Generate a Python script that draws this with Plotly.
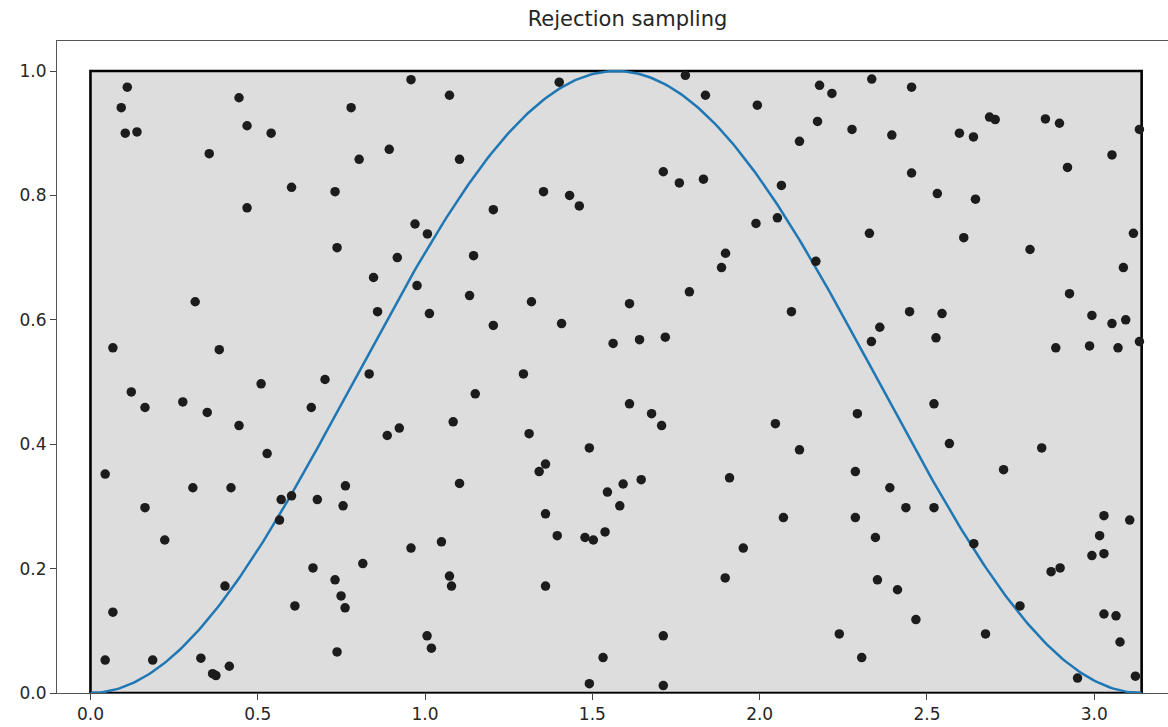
import numpy as np
import plotly.graph_objects as go

# Proposal samples (uniform over the box [0, pi] x [0, 1])
sample_x = [
    0.110, 0.092, 0.444, 0.468, 0.104, 0.139, 0.540, 0.355, 0.601, 0.468,
    0.958, 1.073, 1.401, 0.779, 0.893, 0.803, 1.103, 0.731, 1.354, 1.432,
    1.461, 1.204, 0.970, 1.007, 0.737, 0.917, 1.145,
    1.778, 1.838, 1.993, 2.179, 2.216, 2.173, 2.276, 2.119, 1.712, 1.760,
    1.832, 2.065, 2.053, 1.989, 1.898, 2.168,
    2.335, 2.454, 2.395, 2.687, 2.704, 2.597, 2.639, 2.854, 2.896, 3.135,
    3.053, 2.920, 2.454, 2.531, 2.645, 2.328, 2.610, 2.808, 3.117,
    0.313, 0.067, 0.385, 0.510, 0.122, 0.163, 0.276, 0.349, 0.660, 0.444,
    0.528, 0.044,
    0.846, 0.976, 1.133, 1.318, 0.858, 1.013, 1.204, 1.408, 0.701, 0.833,
    1.294, 1.150, 1.084, 0.923, 0.887, 1.311, 1.491, 1.360, 1.341, 1.103,
    1.886, 1.790, 1.611, 2.095, 1.562, 1.641, 1.718, 1.611, 1.677, 1.707,
    2.047, 2.292, 2.119, 2.286, 1.910, 1.646, 1.592,
    3.087, 2.926, 2.448, 2.545, 2.359, 2.334, 2.527, 2.993, 3.053, 3.094,
    3.135, 2.885, 2.986, 3.071, 2.521, 2.567, 2.843, 2.729,
    0.306, 0.420, 0.163, 0.222, 0.570, 0.601, 0.678, 0.565, 0.665, 0.402,
    0.611, 0.067, 0.044, 0.186, 0.330, 0.415, 0.365, 0.375,
    0.762, 0.755, 1.360, 1.395, 1.478, 1.503, 0.958, 1.049, 0.814, 0.731,
    0.749, 0.761, 1.073, 1.079, 1.360, 1.006, 1.019, 0.737, 1.491,
    1.545, 1.582, 1.538, 2.071, 2.286, 1.951, 1.897, 1.712, 2.238, 2.305,
    1.532, 1.712,
    2.389, 2.437, 2.521, 2.346, 2.640, 2.352, 2.412, 2.467, 2.675, 2.778,
    2.871, 2.898, 3.029, 3.106, 3.016, 2.993, 3.029, 3.029, 3.065, 3.077,
    2.950, 3.123,
]
sample_y = [
    0.974, 0.941, 0.957, 0.912, 0.900, 0.902, 0.900, 0.867, 0.813, 0.780,
    0.986, 0.961, 0.982, 0.941, 0.874, 0.858, 0.858, 0.806, 0.806, 0.800,
    0.783, 0.777, 0.754, 0.738, 0.716, 0.700, 0.703,
    0.993, 0.961, 0.945, 0.977, 0.964, 0.919, 0.906, 0.887, 0.838, 0.820,
    0.826, 0.816, 0.764, 0.755, 0.707, 0.694,
    0.987, 0.974, 0.897, 0.926, 0.922, 0.900, 0.894, 0.923, 0.916, 0.906,
    0.865, 0.845, 0.836, 0.803, 0.794, 0.739, 0.732, 0.713, 0.739,
    0.629, 0.555, 0.552, 0.497, 0.484, 0.459, 0.468, 0.451, 0.459, 0.430,
    0.385, 0.352,
    0.668, 0.655, 0.639, 0.629, 0.613, 0.610, 0.591, 0.594, 0.504, 0.513,
    0.513, 0.481, 0.436, 0.426, 0.414, 0.417, 0.394, 0.368, 0.356, 0.337,
    0.684, 0.645, 0.626, 0.613, 0.562, 0.568, 0.572, 0.465, 0.449, 0.430,
    0.433, 0.449, 0.391, 0.356, 0.346, 0.343, 0.336,
    0.684, 0.642, 0.613, 0.610, 0.588, 0.565, 0.571, 0.607, 0.594, 0.600,
    0.565, 0.555, 0.558, 0.555, 0.465, 0.401, 0.394, 0.359,
    0.330, 0.330, 0.298, 0.246, 0.311, 0.317, 0.311, 0.278, 0.201, 0.172,
    0.140, 0.130, 0.053, 0.053, 0.056, 0.043, 0.031, 0.028,
    0.333, 0.301, 0.288, 0.253, 0.250, 0.246, 0.233, 0.243, 0.208, 0.182,
    0.156, 0.137, 0.188, 0.172, 0.172, 0.092, 0.072, 0.066, 0.015,
    0.323, 0.301, 0.259, 0.282, 0.282, 0.233, 0.185, 0.092, 0.095, 0.057,
    0.057, 0.012,
    0.330, 0.298, 0.298, 0.250, 0.240, 0.182, 0.166, 0.118, 0.095, 0.140,
    0.195, 0.201, 0.285, 0.278, 0.253, 0.221, 0.224, 0.127, 0.124, 0.082,
    0.024, 0.027,
]

x_ticks = [0.0, 0.5, 1.0, 1.5, 2.0, 2.5, 3.0]
y_ticks = [0.0, 0.2, 0.4, 0.6, 0.8, 1.0]

# Target density sin^2(x) on [0, pi]
curve_x = np.linspace(0, np.pi, 400)
curve_y = np.sin(curve_x) ** 2

fig = go.Figure()

fig.add_trace(go.Scatter(
    x=curve_x, y=curve_y, mode="lines",
    line=dict(color="#1f77b4", width=2.5),
    hoverinfo="skip", showlegend=False,
))
fig.add_trace(go.Scatter(
    x=sample_x, y=sample_y, mode="markers",
    marker=dict(color="#1c1c1c", size=9.5, line=dict(width=0)),
    showlegend=False,
))

# Sampling box
fig.add_shape(
    type="rect", x0=0, x1=np.pi, y0=0, y1=1,
    xref="x", yref="y", layer="below",
    fillcolor="#dddddd", line=dict(color="black", width=2.6),
)

tick_font = dict(family="DejaVu Sans", size=17, color="#262626")

fig.update_layout(
    width=1168, height=727,
    margin=dict(l=57, r=0, t=41, b=34),
    paper_bgcolor="white", plot_bgcolor="white",
    font=tick_font,
    title=dict(
        text="Rejection sampling", x=0.5135, xref="paper", xanchor="center",
        y=1 - 19 / 727, yref="container", yanchor="middle",
        font=dict(family="DejaVu Sans", size=21, color="#262626"),
    ),
)
fig.update_xaxes(
    range=[-0.1, -0.1 + 1111 / 334.6],
    tickvals=x_ticks, ticktext=[f"{v:.1f}" for v in x_ticks],
    ticks="outside", ticklen=6, tickwidth=1, tickcolor="#444",
    tickfont=tick_font,
    showgrid=False, zeroline=False,
    showline=True, linecolor="#555", linewidth=1, mirror=True,
)
fig.update_yaxes(
    range=[0, 652 / 622],
    tickvals=y_ticks, ticktext=[f"{v:.1f}" for v in y_ticks],
    ticks="outside", ticklen=6, tickwidth=1, tickcolor="#444",
    tickfont=tick_font,
    showgrid=False, zeroline=False,
    showline=True, linecolor="#555", linewidth=1, mirror=False,
)

fig.write_html("out.html")
